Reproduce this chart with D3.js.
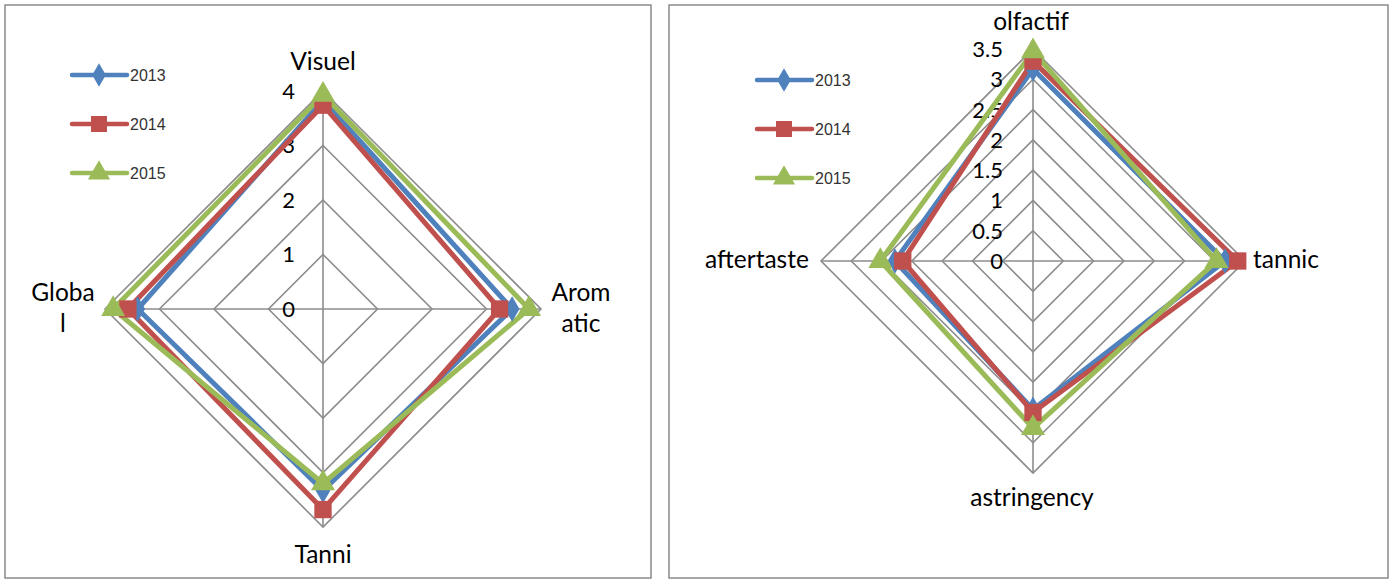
<!DOCTYPE html>
<html>
<head>
<meta charset="utf-8">
<script src="https://cdn.jsdelivr.net/npm/d3@7"></script>
<style>
  html, body { margin: 0; padding: 0; background: #fff; }
  svg { display: block; }
</style>
</head>
<body>
<svg id="chart" width="1394" height="584"></svg>
<script>
// ---- data ----
const years = ["2013", "2014", "2015"];
const colors = ["#4F81BD", "#C0504D", "#9BBB59"];
const markers = ["diamond", "square", "triangle"];

// first radar: sensory scores
const axesA = ["Visuel", "Aromatic", "Tanni", "Global"];
const axisLabelsA = [["Visuel"], ["Arom", "atic"], ["Tanni"], ["Globa", "l"]];
const ticksA = [0, 1, 2, 3, 4];
const valuesA2013 = [3.83, 3.47, 3.33, 3.4];
const valuesA2014 = [3.74, 3.24, 3.68, 3.58];
const valuesA2015 = [3.93, 3.78, 3.2, 3.85];

// second radar: mouthfeel / aroma scores
const axesB = ["olfactif", "tannic", "astringency", "aftertaste"];
const axisLabelsB = [["olfactif"], ["tannic"], ["astringency"], ["aftertaste"]];
const ticksB = [0, 0.5, 1, 1.5, 2, 2.5, 3, 3.5];
const valuesB2013 = [3.17, 3.17, 2.45, 2.28];
const valuesB2014 = [3.3, 3.38, 2.5, 2.15];
const valuesB2015 = [3.46, 3.03, 2.76, 2.52];

const svg = d3.select("#chart");
const labelFont = "Lato, 'Open Sans', 'Liberation Sans', sans-serif";
const legendFont = "'Liberation Sans', Arial, sans-serif";

function markerPath(type, size) {
  const sym = type === "diamond" ? d3.symbolDiamond
            : type === "square" ? d3.symbolSquare : d3.symbolTriangle;
  return d3.symbol().type(sym).size(size)();
}
const markerSize = { diamond: 190, square: 300, triangle: 250 };

function radar(cfg) {
  const g = svg.append("g");
  // frame
  g.append("rect")
    .attr("x", cfg.frame[0]).attr("y", cfg.frame[1])
    .attr("width", cfg.frame[2]).attr("height", cfg.frame[3])
    .attr("fill", "#fff").attr("stroke", "#8a8a8a").attr("stroke-width", 1.5);

  const plot = g.append("g").attr("transform", `translate(${cfg.cx},${cfg.cy})`);
  const r = d3.scaleLinear().domain([0, cfg.max]).range([0, cfg.radius]);
  const angle = d3.scalePoint().domain(cfg.axes).range([0, 2 * Math.PI * (cfg.axes.length - 1) / cfg.axes.length]);
  const pt = (a, v) => [Math.sin(angle(a)) * r(v), -Math.cos(angle(a)) * r(v)];

  // rings
  const ringLine = d3.lineRadial().curve(d3.curveLinearClosed)
    .angle(a => angle(a));
  cfg.ticks.filter(t => t > 0).forEach(t => {
    plot.append("path")
      .attr("d", ringLine.radius(() => r(t))(cfg.axes))
      .attr("fill", "none").attr("stroke", "#8c8c8c").attr("stroke-width", 1.6);
  });
  // spokes
  cfg.axes.forEach(a => {
    const [x, y] = pt(a, cfg.max);
    plot.append("line").attr("x1", 0).attr("y1", 0).attr("x2", x).attr("y2", y)
      .attr("stroke", "#8c8c8c").attr("stroke-width", 1.6);
  });
  // tick labels
  cfg.ticks.forEach(t => {
    plot.append("text")
      .attr("x", -cfg.tickDx).attr("y", -r(t))
      .attr("dy", "0.36em")
      .attr("text-anchor", "end")
      .attr("font-family", labelFont).attr("font-size", 22)
      .attr("fill", "#000").text(t);
  });

  // series
  const line = d3.lineRadial().curve(d3.curveLinearClosed)
    .angle((d, i) => angle(cfg.axes[i]))
    .radius(d => r(d));
  cfg.series.forEach((vals, k) => {
    plot.append("path").attr("d", line(vals))
      .attr("fill", "none").attr("stroke", colors[k])
      .attr("stroke-width", 5).attr("stroke-linejoin", "miter");
  });
  cfg.series.forEach((vals, k) => {
    vals.forEach((v, i) => {
      const [x, y] = pt(cfg.axes[i], v);
      plot.append("path").attr("d", markerPath(markers[k], markerSize[markers[k]]))
        .attr("transform", `translate(${x},${y})`)
        .attr("fill", colors[k]);
    });
  });

  // axis labels
  cfg.axes.forEach((a, i) => {
    const pos = cfg.labelPos[i];
    const t = g.append("text")
      .attr("x", pos[0]).attr("y", pos[1])
      .attr("text-anchor", "middle")
      .attr("font-family", labelFont).attr("font-size", 24.5).attr("fill", "#000");
    cfg.labels[i].forEach((s, j) => {
      t.append("tspan").attr("x", pos[0]).attr("dy", j === 0 ? 0 : 31).text(s);
    });
  });

  // legend
  years.forEach((yr, k) => {
    const ly = cfg.legend[1] + k * cfg.legendGap;
    const lx = cfg.legend[0];
    g.append("line").attr("x1", lx).attr("x2", lx + 55).attr("y1", ly).attr("y2", ly)
      .attr("stroke", colors[k]).attr("stroke-width", 4.5).attr("stroke-linecap", "round");
    g.append("path").attr("d", markerPath(markers[k], markerSize[markers[k]] * 0.85))
      .attr("transform", `translate(${lx + 27},${ly})`).attr("fill", colors[k]);
    g.append("text").attr("x", lx + 58).attr("y", ly).attr("dy", "0.36em")
      .attr("font-family", legendFont).attr("font-size", 16).attr("fill", "#333")
      .text(yr);
  });
}

radar({
  frame: [5, 5, 646, 573],
  cx: 323, cy: 309, radius: 218, max: 4,
  axes: axesA, labels: axisLabelsA, ticks: ticksA, tickDx: 28,
  series: [valuesA2013, valuesA2014, valuesA2015],
  labelPos: [[323, 70], [581, 301], [323, 563], [63, 301]],
  legend: [72, 75], legendGap: 49
});

radar({
  frame: [669, 5, 719, 573],
  cx: 1033, cy: 261, radius: 212, max: 3.5,
  axes: axesB, labels: axisLabelsB, ticks: ticksB, tickDx: 30,
  series: [valuesB2013, valuesB2014, valuesB2015],
  labelPos: [[1031, 30], [1286, 268], [1032, 506], [757, 268]],
  legend: [757, 80], legendGap: 49
});
</script>
</body>
</html>
